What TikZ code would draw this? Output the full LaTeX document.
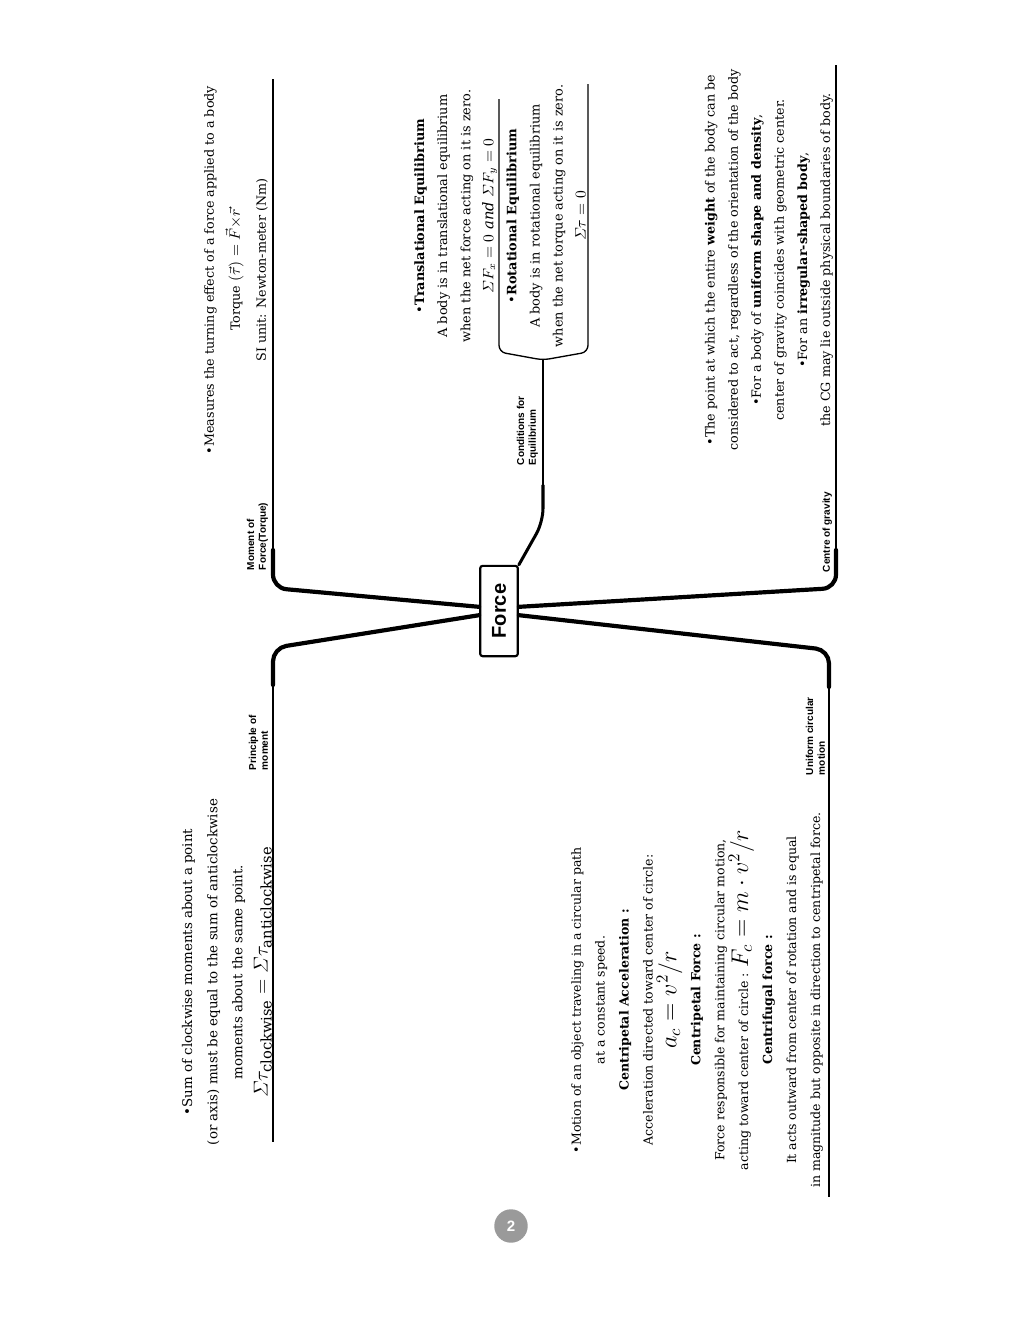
\documentclass[tikz,border=0pt]{standalone}
\usepackage{amsmath}
\usepackage{fontspec}
\setmainfont{DejaVu Serif}
\setsansfont{Liberation Sans}
\definecolor{pagegray}{HTML}{9A9A9A}

\begin{document}
\begin{tikzpicture}[x=0.5977pt, y=-0.5977pt,
		branch/.style={line width=2.5pt, line cap=round, rounded corners=8pt},
		armline/.style={line width=0.8pt},
		branchlabel/.style={rotate=90, anchor=south west, align=left, inner sep=1pt,
			font=\sffamily\bfseries\fontsize{6}{7}\selectfont},
		txt/.style={rotate=90, align=center, inner sep=0pt,
			font=\fontsize{7.7}{13.8}\selectfont}
		]
	\useasboundingbox (0,0) rectangle (1024,1325);

	% centre
	\node [draw, rotate=90, line width=1.3pt, rounded corners=1.5pt,
	  minimum width=54pt, minimum height=22.5pt,
	  font=\sffamily\bfseries\fontsize{12}{14}\selectfont] (force) at (499,611) {Force};

	% corners and free ends of the branches
	\coordinate (mtop) at (273,79);
	\coordinate (ptop) at (273,1142);
	\coordinate (gtop) at (836,65);
	\coordinate (utop) at (829,1197);
	\coordinate (ctip) at (543,360);

	% branches
	\draw [branch] ([yshift=2.5pt]force.north) -- (273,588) -- (273,550);
	\draw [armline] (273,565) -- (mtop);
	\draw [branch] ([yshift=-2.5pt]force.north) -- (273,648) -- (273,685);
	\draw [armline] (273,670) -- (ptop);
	\draw [branch] ([yshift=2.5pt]force.south) -- (836,588) -- (836,550);
	\draw [armline] (836,565) -- (gtop);
	\draw [branch] ([yshift=-2.5pt]force.south) -- (829,650) -- (829,687);
	\draw [armline] (829,672) -- (utop);
	\draw [branch, line width=1.8pt] (force.south east) -- (543,522) -- (543,485);
	\draw [armline] (543,500) -- (ctip);
	\draw [armline, rounded corners=4pt] (499,99) -- (499,352) -- (ctip) -- (588,352) -- (588,84);

	% branch labels
	\node [branchlabel] (moment) at (270,572) {Moment of\\Force(Torque)};
	\node [branchlabel] (principle) at (270,772) {Principle of\\moment};
	\node [branchlabel] (ucm) at (827,777) {Uniform circular\\motion};
	\node [branchlabel] (cog) at (834,574) {Centre of gravity};
	\node [branchlabel] (cond) at (540,467) {Conditions for\\Equilibrium};

	% texts
	\node [txt, font=\fontsize{7.6}{15.5}\selectfont] (torquetxt) at (236,270)
	  {\textbullet Measures the turning effect of a force applied to a body\\
	   Torque {\fontsize{9.5}{10}\selectfont$(\vec{\tau})= \vec{F}{\times}\vec{r}$}\\
	   SI unit: Newton-meter (Nm)};
	\node [txt] (condtxt) at (500,216)
	  {\textbullet\textbf{Translational Equilibrium}\\
	   A body is in translational equilibrium\\
	   when the net force acting on it is zero.\\
	   {\fontsize{8.8}{10}\selectfont$\varSigma F_x=0\ \mathit{and}\ \varSigma F_y=0$}\\
	   \textbullet\textbf{Rotational Equilibrium}\\
	   A body is in rotational equilibrium\\
	   when the net torque acting on it is zero.\\
	   {\fontsize{8.8}{10}\selectfont$\varSigma\tau=0$}};
	\node [txt, font=\fontsize{7.6}{13.8}\selectfont] (cogtxt) at (769,260)
	  {\textbullet The point at which the entire \textbf{weight} of the body can be\\
	   considered to act, regardless of the orientation of the body\\
	   \textbullet For a body of \textbf{uniform shape and density},\\
	   center of gravity coincides with geometric center.\\
	   \textbullet For an \textbf{irregular-shaped body},\\
	   the CG may lie outside physical boundaries of body.};
	\node [txt, font=\fontsize{8}{15}\selectfont] (principletxt) at (227,972)
	  {\textbullet Sum of clockwise moments about a point\\
	   (or axis) must be equal to the sum of anticlockwise\\
	   moments about the same point.\\
	   {\fontsize{12.5}{14}\selectfont$\varSigma\tau_{\text{clockwise}}=\varSigma\tau_{\text{anticlockwise}}$}};
	\node [txt, font=\fontsize{7.5}{14.3}\selectfont] (ucmtxt) at (697,1000)
	  {\textbullet Motion of an object traveling in a circular path\\
	   at a constant speed.\\
	   \textbf{Centripetal Acceleration :}\\
	   Acceleration directed toward center of circle:\\
	   {\Large $a_c=v^2/r$}\\
	   \textbf{Centripetal Force :}\\
	   Force responsible for maintaining circular motion,\\
	   acting toward center of circle : {\Large $F_c=m\cdot v^2/r$}\\
	   \textbf{Centrifugal force :}\\
	   It acts outward from center of rotation and is equal\\
	   in magnitude but opposite in direction to centripetal force.};

	% page number
	\node [circle, fill=pagegray, text=white, minimum size=20pt, inner sep=0pt,
	  font=\sffamily\bfseries\small] (pagenum) at (511,1226) {2};
\end{tikzpicture}
\end{document}
